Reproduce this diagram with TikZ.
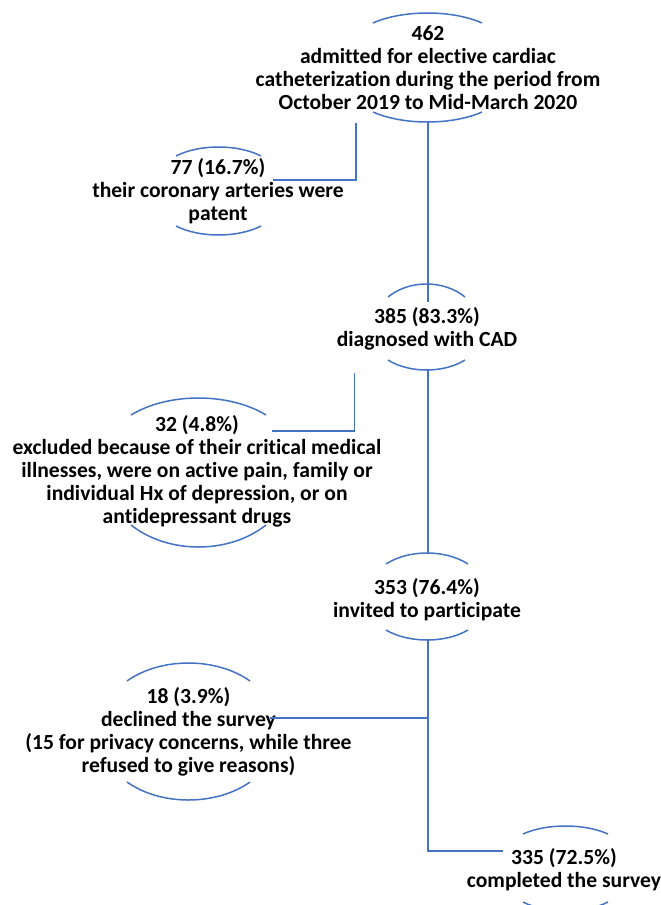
\documentclass[tikz,border=0pt]{standalone}
\usepackage{fontspec}
\setmainfont{Carlito}[Ligatures=NoCommon]
\definecolor{lnblue}{RGB}{68,114,196}
\newcommand\rimpair[6]{%
  \draw[rim] ({#1-#2},{-#3}) .. controls ({#1-0.45*#2},{-(#3+(#4-#3)/0.75)}) and ({#1+0.45*#2},{-(#3+(#4-#3)/0.75)}) .. ({#1+#2},{-#3});
  \draw[rim] ({#1-#2},{-#5}) .. controls ({#1-0.45*#2},{-(#5+(#6-#5)/0.75)}) and ({#1+0.45*#2},{-(#5+(#6-#5)/0.75)}) .. ({#1+#2},{-#5});
}
\begin{document}
\begin{tikzpicture}[x=1pt,y=1pt,
  lbl/.style={align=center,inner sep=0pt,font=\fontsize{21.6}{23}\selectfont\bfseries},
  link/.style={draw=lnblue,line width=2pt},
  branch/.style={draw=lnblue,line width=1.8pt},
  rim/.style={draw=lnblue,line width=1.5pt}]
\useasboundingbox (0,0) rectangle (661,-905);
\fill[white] (0,0) rectangle (661,-905);

\node[lbl] (n1) at (428,-67.5) {462\\admitted for elective cardiac\\catheterization during the period from\\October 2019 to Mid-March 2020};
\node[lbl] (n2) at (218,-191.5) {77 (16.7\%)\\their coronary arteries were\\patent};
\node[lbl] (n3) at (427,-329) {385 (83.3\%)\\diagnosed with CAD};
\node[lbl] (n4) at (197,-471) {32 (4.8\%)\\excluded because of their critical medical\\illnesses, were on active pain, family or\\individual Hx of depression, or on\\antidepressant drugs};
\node[lbl] (n5) at (427,-599.5) {353 (76.4\%)\\invited to participate};
\node[lbl] (n6) at (188.5,-731.5) {18 (3.9\%)\\declined the survey\\(15 for privacy concerns, while three\\refused to give reasons)};
\node[lbl] (n7) at (564,-870) {335 (72.5\%)\\completed the survey};

\rimpair{427.5}{54.5}{23}{13}{112}{122}
\rimpair{218.5}{42.5}{156}{147}{226}{235}
\rimpair{426.5}{38.5}{297}{284}{360}{370}
\rimpair{198.5}{67.5}{415}{398}{525}{547}
\rimpair{427}{41}{564}{553}{630}{640}
\rimpair{188.5}{61.5}{681}{663}{782}{800}
\rimpair{565.5}{42.5}{834}{826}{902}{911}

\coordinate (n1s) at (427.5,-122);
\coordinate (n3n) at (427.5,-302);
\coordinate (b1) at (356,-123);
\coordinate (n2e) at (273,-180);
\coordinate (n3s) at (427.5,-370);
\coordinate (n5n) at (427.5,-553);
\coordinate (b2) at (354.5,-373);
\coordinate (n4e) at (272,-431);
\coordinate (n5s) at (427.5,-640);
\coordinate (n7w) at (503,-851);
\coordinate (b3) at (427.5,-718);
\coordinate (n6e) at (270,-718);

\draw[link] (n1s) -- (n3n);
\draw[branch] (b1) |- (n2e);
\draw[link] (n3s) -- (n5n);
\draw[branch] (b2) |- (n4e);
\draw[link] (n5s) |- (n7w);
\draw[branch] (b3) -- (n6e);
\end{tikzpicture}
\end{document}
